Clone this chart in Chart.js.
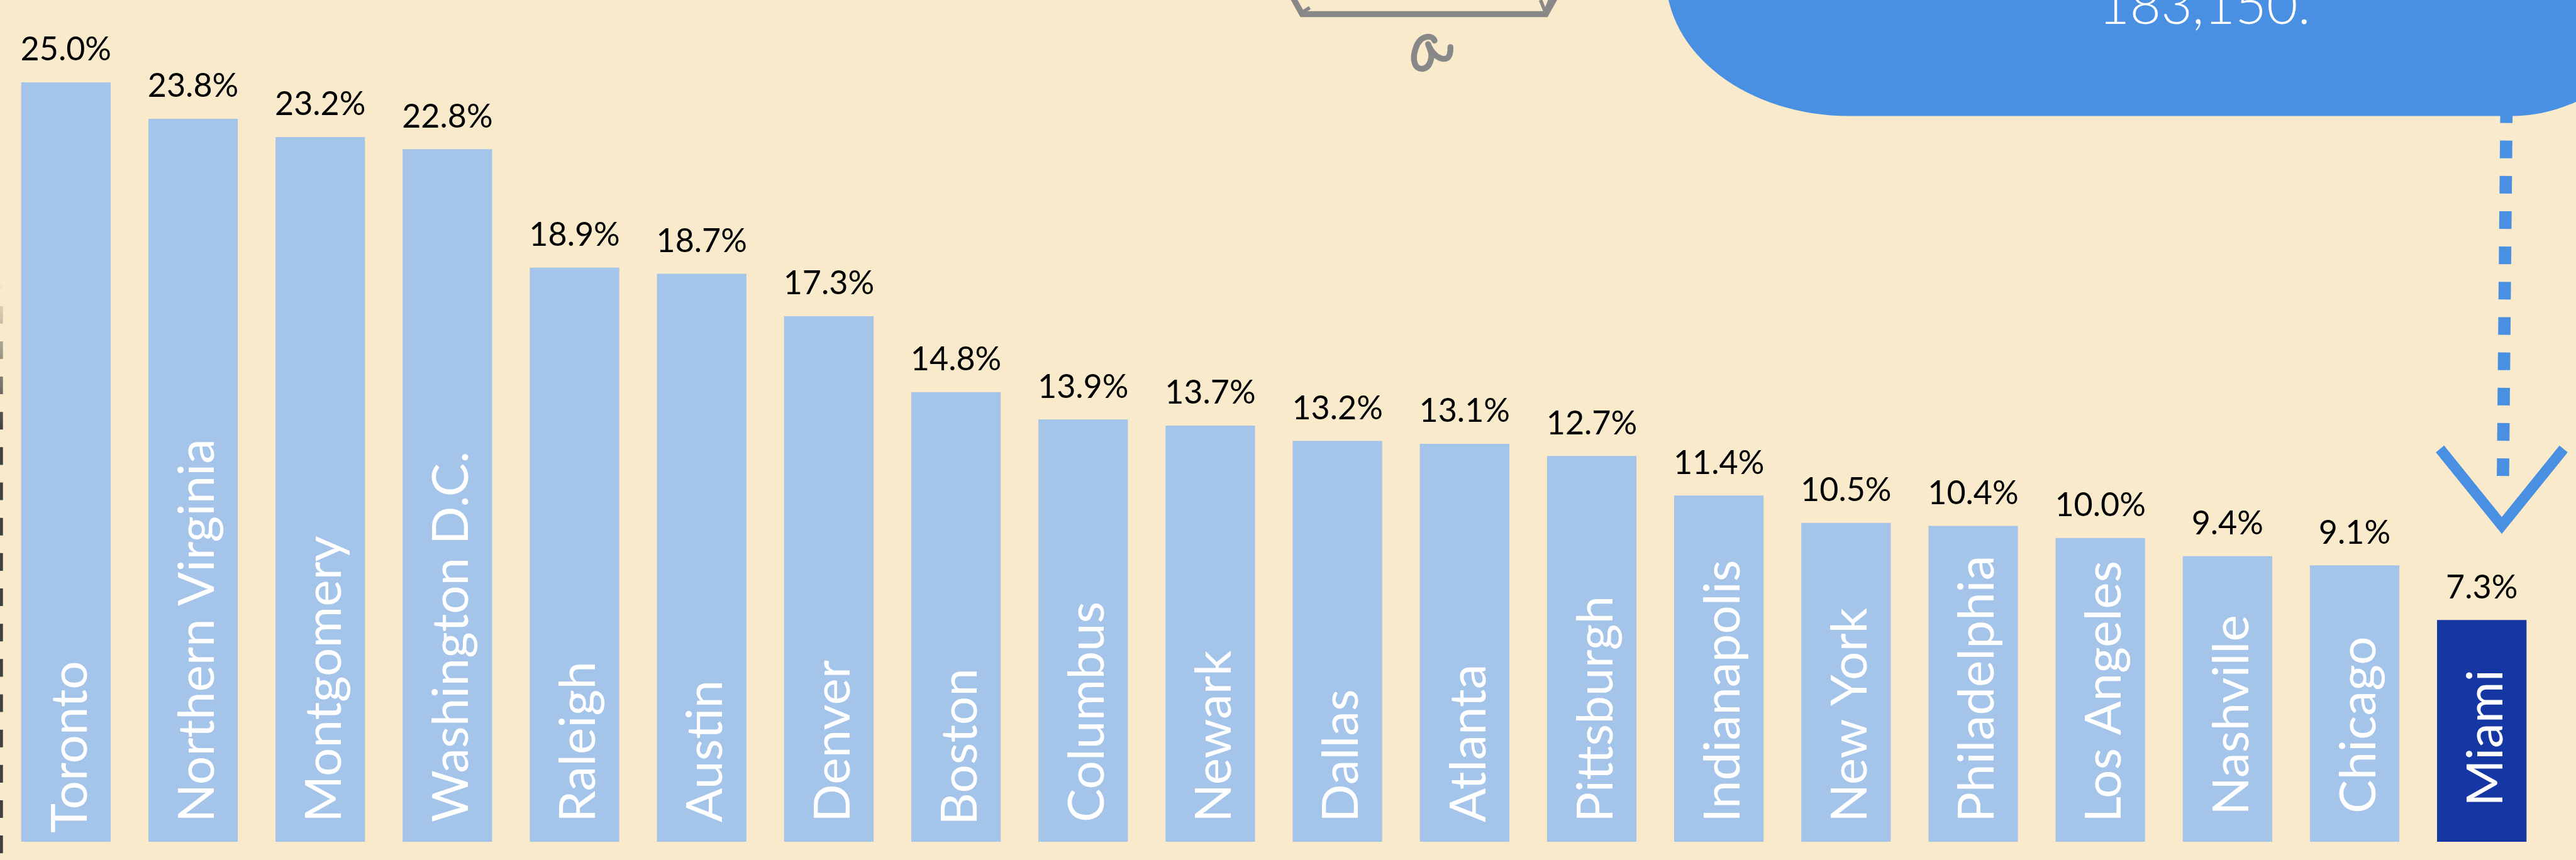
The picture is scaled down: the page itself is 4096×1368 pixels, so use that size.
<!DOCTYPE html>
<html>
<head>
<meta charset="utf-8">
<script src="https://cdn.jsdelivr.net/npm/chart.js@4/dist/chart.umd.min.js"></script>
<style>
  html, body { margin: 0; padding: 0; background: #f9eacb; overflow: hidden; }
  canvas { display: block; }
</style>
</head>
<body>
<canvas id="barChart" width="4096" height="1368"></canvas>
<script>
const cities = [
  "Toronto", "Northern Virginia", "Montgomery", "Washington D.C.", "Raleigh",
  "Austin", "Denver", "Boston", "Columbus", "Newark", "Dallas", "Atlanta",
  "Pittsburgh", "Indianapolis", "New York", "Philadelphia", "Los Angeles",
  "Nashville", "Chicago", "Miami",
];
const shares = [
  25.0, 23.8, 23.2, 22.8, 18.9, 18.7, 17.3, 14.8, 13.9, 13.7, 13.2, 13.1,
  12.7, 11.4, 10.5, 10.4, 10.0, 9.4, 9.1, 7.3,
];
const highlightCity = "Miami";
const bubbleText = "183,150.";

const S = 0.936; // reference px -> page px
const BAR = "#a4c4ea";
const BAR_HI = "#1537a3";
const BUBBLE = "#4a90e2";

// how far the city name sits above the bar foot (reference px)
const nameLift = { Toronto: 15, Boston: 28, Nashville: 45, Chicago: 48, Miami: 60 };

// value labels above bars + city names inside bars
const barText = {
  id: "barText",
  afterDatasetsDraw(chart) {
    const ctx = chart.ctx;
    const meta = chart.getDatasetMeta(0);
    const bottom = chart.scales.y.getPixelForValue(0);
    ctx.save();
    meta.data.forEach((bar, i) => {
      ctx.fillStyle = "#000";
      ctx.font = "52px Lato";
      ctx.textAlign = "center";
      ctx.textBaseline = "alphabetic";
      ctx.fillText(shares[i].toFixed(1) + "%", bar.x, bar.y - 37 * S);

      const lift = nameLift[cities[i]] || 33;
      ctx.save();
      ctx.translate(bar.x + 35 * S, bottom - lift * S);
      ctx.rotate(-Math.PI / 2);
      ctx.fillStyle = "#fff";
      ctx.font = "80px Lato";
      ctx.textAlign = "left";
      ctx.fillText(cities[i], 0, 0);
      ctx.restore();
    });
    ctx.restore();
  },
};

// bits of the surrounding infographic that show at the edges
const decorations = {
  id: "decorations",
  afterDraw(chart) {
    const ctx = chart.ctx;
    ctx.save();
    ctx.scale(S, S);

    // faded dashed line on the left edge
    const fade = ctx.createLinearGradient(0, 480, 0, 730);
    fade.addColorStop(0, "rgba(64,64,64,0)");
    fade.addColorStop(1, "rgba(64,64,64,1)");
    ctx.strokeStyle = fade;
    ctx.lineWidth = 10;
    ctx.setLineDash([30, 30]);
    ctx.beginPath();
    ctx.moveTo(0, 460);
    ctx.lineTo(0, 1500);
    ctx.stroke();

    // dotted arrow from the bubble
    ctx.strokeStyle = BUBBLE;
    ctx.lineWidth = 21;
    ctx.setLineDash([30, 30]);
    ctx.beginPath();
    ctx.moveTo(4258, 179);
    ctx.lineTo(4252, 809);
    ctx.stroke();
    ctx.setLineDash([]);
    ctx.lineWidth = 18;
    ctx.lineJoin = "miter";
    ctx.beginPath();
    ctx.moveTo(4145, 763);
    ctx.lineTo(4250, 893);
    ctx.lineTo(4355, 763);
    ctx.stroke();

    // blue bubble
    ctx.fillStyle = BUBBLE;
    ctx.beginPath();
    ctx.ellipse(3140, -40, 310, 237, 0, Math.PI, Math.PI / 2, true);
    ctx.lineTo(4267, 197);
    ctx.arc(4267, -63, 260, Math.PI / 2, 0, true);
    ctx.lineTo(4600, -200);
    ctx.lineTo(2800, -200);
    ctx.closePath();
    ctx.fill();
    ctx.fillStyle = "#fff";
    ctx.font = "300 100px Lato";
    const fit = 100 * 360 / ctx.measureText(bubbleText).width;
    ctx.font = "300 " + fit.toFixed(1) + "px Lato";
    ctx.textAlign = "left";
    ctx.textBaseline = "alphabetic";
    ctx.fillText(bubbleText, 3565, 41);

    // grey bracket with a hand-drawn alpha
    ctx.strokeStyle = "#888";
    ctx.lineWidth = 10;
    ctx.beginPath();
    ctx.moveTo(2193, -10);
    ctx.lineTo(2212, 24);
    ctx.lineTo(2626, 24);
    ctx.lineTo(2645, -10);
    ctx.stroke();
    ctx.lineWidth = 6;
    ctx.beginPath();
    ctx.moveTo(2214, 20);
    ctx.lineTo(2225, 13);
    ctx.moveTo(2617, 0);
    ctx.lineTo(2625, 20);
    ctx.lineTo(2633, 0);
    ctx.stroke();

    ctx.lineWidth = 10;
    ctx.lineCap = "round";
    ctx.lineJoin = "round";
    ctx.beginPath();
    ctx.moveTo(2437, 69);
    ctx.bezierCurveTo(2432, 58, 2412, 60, 2405, 82);
    ctx.bezierCurveTo(2398, 102, 2404, 118, 2416, 117);
    ctx.bezierCurveTo(2430, 116, 2434, 96, 2430, 86);
    ctx.lineTo(2426, 75);
    ctx.bezierCurveTo(2432, 90, 2442, 99, 2452, 100);
    ctx.bezierCurveTo(2462, 101, 2464, 92, 2464, 80);
    ctx.stroke();

    ctx.restore();
  },
};

const ctx = document.getElementById("barChart").getContext("2d");
new Chart(ctx, {
  type: "bar",
  data: {
    labels: cities,
    datasets: [
      {
        data: shares,
        backgroundColor: cities.map((c) => (c === highlightCity ? BAR_HI : BAR)),
        borderWidth: 0,
        barPercentage: 152 / 216,
        categoryPercentage: 1,
      },
    ],
  },
  options: {
    responsive: false,
    devicePixelRatio: 1,
    animation: false,
    layout: {
      padding: {
        top: 140 * S,
        bottom: 1368 - 1430.5 * S,
        left: 4 * S,
        right: 4096 - 4324 * S,
      },
    },
    scales: {
      x: { display: false },
      y: { display: false, min: 0, max: 25 },
    },
    plugins: {
      legend: { display: false },
      tooltip: { enabled: false },
    },
  },
  plugins: [barText, decorations],
});
</script>
</body>
</html>
